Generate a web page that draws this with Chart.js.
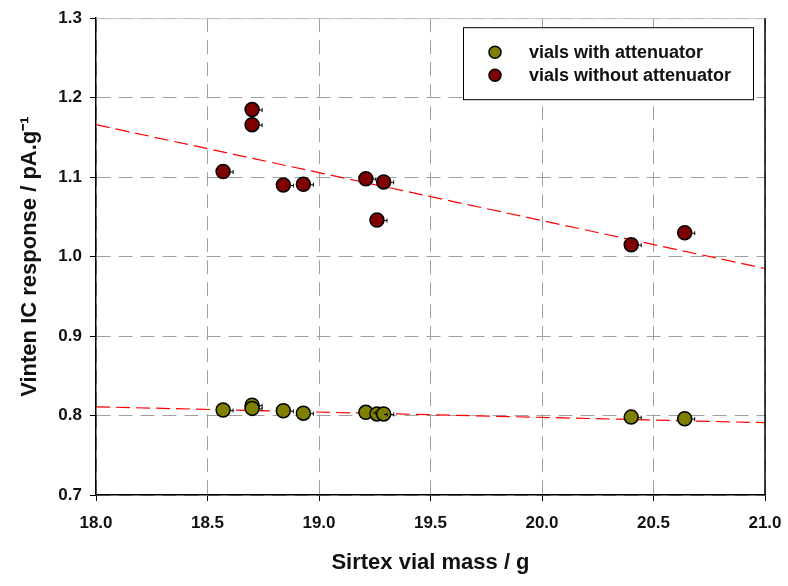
<!DOCTYPE html>
<html lang="en">
<head>
    <meta charset="UTF-8">
    <title>Vinten IC response vs Sirtex vial mass</title>
    <style>
        body {
            margin: 0;
            padding: 0;
            background-color: #fff;
        }
        #wrap {
            width: 788px;
            height: 586px;
        }
    </style>
</head>
<body>
<div id="wrap"><canvas id="chart" width="788" height="586"></canvas></div>
<script src="https://cdn.jsdelivr.net/npm/chart.js"></script>
<script>
    // vial masses (g), same vials measured both ways
    const massWith = [18.57, 18.70, 18.70, 18.84, 18.93, 19.21, 19.26, 19.29, 20.40, 20.64];
    const respWith = [0.807, 0.813, 0.809, 0.806, 0.803, 0.804, 0.802, 0.802, 0.798, 0.796];
    const massWithout = [18.57, 18.70, 18.70, 18.84, 18.93, 19.21, 19.26, 19.29, 20.40, 20.64];
    const respWithout = [1.107, 1.185, 1.166, 1.090, 1.091, 1.098, 1.046, 1.094, 1.015, 1.030];

    // fitted trend lines, read at the ends of the x range
    const fitX = [18.0, 21.0];
    const fitWith = [0.811, 0.791];
    const fitWithout = [1.166, 0.985];

    const labelWith = 'vials with attenuator';
    const labelWithout = 'vials without attenuator';

    const fontFamily = '"Liberation Sans", Arial, sans-serif';

    function toPoints(xs, ys) {
        return xs.map((x, i) => ({ x: x, y: ys[i] }));
    }

    // small error-bar stubs to the right of each marker, plus frame lines and legend box
    const extras = {
        id: 'extras',
        beforeDatasetsDraw(chart) {
            const ctx = chart.ctx;
            const area = chart.chartArea;
            ctx.save();
            ctx.strokeStyle = '#c8c8c8';
            ctx.lineWidth = 1;
            ctx.beginPath();
            ctx.moveTo(area.left, area.top + 0.5);
            ctx.lineTo(area.right, area.top + 0.5);
            ctx.stroke();
            ctx.restore();
        },
        afterDatasetsDraw(chart) {
            const ctx = chart.ctx;
            ctx.save();
            ctx.strokeStyle = '#000';
            ctx.lineWidth = 1;
            chart.data.datasets.forEach((ds, i) => {
                if (ds.type !== 'scatter') return;
                chart.getDatasetMeta(i).data.forEach(pt => {
                    const r = ds.pointRadius;
                    ctx.beginPath();
                    ctx.moveTo(pt.x + r, pt.y + 0.5);
                    ctx.lineTo(pt.x + r + 3, pt.y + 0.5);
                    ctx.moveTo(pt.x + r + 3, pt.y - 1.5);
                    ctx.lineTo(pt.x + r + 3, pt.y + 2.5);
                    ctx.stroke();
                });
            });
            ctx.restore();
        },
        afterDraw(chart) {
            const ctx = chart.ctx;
            const area = chart.chartArea;
            ctx.save();
            ctx.strokeStyle = '#000';
            ctx.lineWidth = 1.5;
            ctx.beginPath();
            ctx.moveTo(area.right, area.top);
            ctx.lineTo(area.right, area.bottom);
            ctx.stroke();

            // legend
            const w = 290, h = 72;
            const left = area.right - 12 - w;
            const top = area.top + 9;
            ctx.lineWidth = 1;
            ctx.fillStyle = '#fff';
            ctx.fillRect(left, top, w, h);
            ctx.strokeRect(left + 0.5, top + 0.5, w, h);
            const items = chart.data.datasets.filter(ds => ds.type === 'scatter');
            ctx.font = 'bold 18px ' + fontFamily;
            ctx.textBaseline = 'middle';
            items.forEach((ds, k) => {
                const y = top + 25 + k * 23;
                ctx.beginPath();
                ctx.arc(left + 32, y, 6, 0, Math.PI * 2);
                ctx.fillStyle = ds.backgroundColor;
                ctx.fill();
                ctx.lineWidth = 1.5;
                ctx.strokeStyle = '#000';
                ctx.stroke();
                ctx.fillStyle = '#111';
                ctx.fillText(ds.label, left + 66, y + 1);
            });
            ctx.restore();
        }
    };

    new Chart(document.getElementById('chart'), {
        data: {
            datasets: [
                {
                    type: 'scatter',
                    label: labelWith,
                    data: toPoints(massWith, respWith),
                    backgroundColor: '#7f7f00',
                    borderColor: '#000',
                    borderWidth: 1.5,
                    pointRadius: 7,
                    order: 1
                },
                {
                    type: 'scatter',
                    label: labelWithout,
                    data: toPoints(massWithout, respWithout),
                    backgroundColor: '#7f0000',
                    borderColor: '#000',
                    borderWidth: 1.5,
                    pointRadius: 7,
                    order: 1
                },
                {
                    type: 'line',
                    label: 'fit with',
                    data: toPoints(fitX, fitWith),
                    borderColor: '#ff0000',
                    borderWidth: 1.2,
                    borderDash: [14, 6],
                    pointRadius: 0,
                    order: 2
                },
                {
                    type: 'line',
                    label: 'fit without',
                    data: toPoints(fitX, fitWithout),
                    borderColor: '#ff0000',
                    borderWidth: 1.2,
                    borderDash: [14, 6],
                    pointRadius: 0,
                    order: 2
                }
            ]
        },
        options: {
            responsive: false,
            animation: false,
            layout: {
                padding: { left: 0, right: 23, top: 15, bottom: 0 }
            },
            plugins: {
                legend: { display: false },
                tooltip: { enabled: false }
            },
            scales: {
                x: {
                    type: 'linear',
                    min: 18.0,
                    max: 21.0,
                    afterFit(scale) {
                        scale.height = 91;
                        scale.paddingLeft = 0;
                        scale.paddingRight = 0;
                    },
                    ticks: {
                        stepSize: 0.5,
                        padding: 12,
                        color: '#111',
                        font: { family: fontFamily, size: 17, weight: 'bold' },
                        callback: v => v.toFixed(1)
                    },
                    grid: {
                        color: '#a0a0a0',
                        lineWidth: 1,
                        tickColor: '#000',
                        tickLength: 6,
                        tickBorderDash: []
                    },
                    border: { display: true, color: '#000', width: 1.5, dash: [14, 8] },
                    title: {
                        display: true,
                        text: 'Sirtex vial mass / g',
                        color: '#111',
                        font: { family: fontFamily, size: 22, weight: 'bold' },
                        padding: { top: 0, bottom: 10 }
                    }
                },
                y: {
                    type: 'linear',
                    min: 0.7,
                    max: 1.3,
                    afterFit(scale) { scale.width = 96; },
                    ticks: {
                        stepSize: 0.1,
                        padding: 8,
                        color: '#111',
                        font: { family: fontFamily, size: 17, weight: 'bold' },
                        callback: v => v.toFixed(1)
                    },
                    grid: {
                        color: '#a0a0a0',
                        lineWidth: 1,
                        tickColor: '#000',
                        tickLength: 6,
                        tickBorderDash: []
                    },
                    border: { display: true, color: '#000', width: 1.5, dash: [14, 8] },
                    title: {
                        display: true,
                        text: 'Vinten IC response / pA.g\u207B\u00B9',
                        color: '#111',
                        font: { family: fontFamily, size: 22, weight: 'bold' },
                        padding: { top: 17, bottom: 0 }
                    }
                }
            }
        },
        plugins: [extras]
    });
</script>
</body>
</html>
